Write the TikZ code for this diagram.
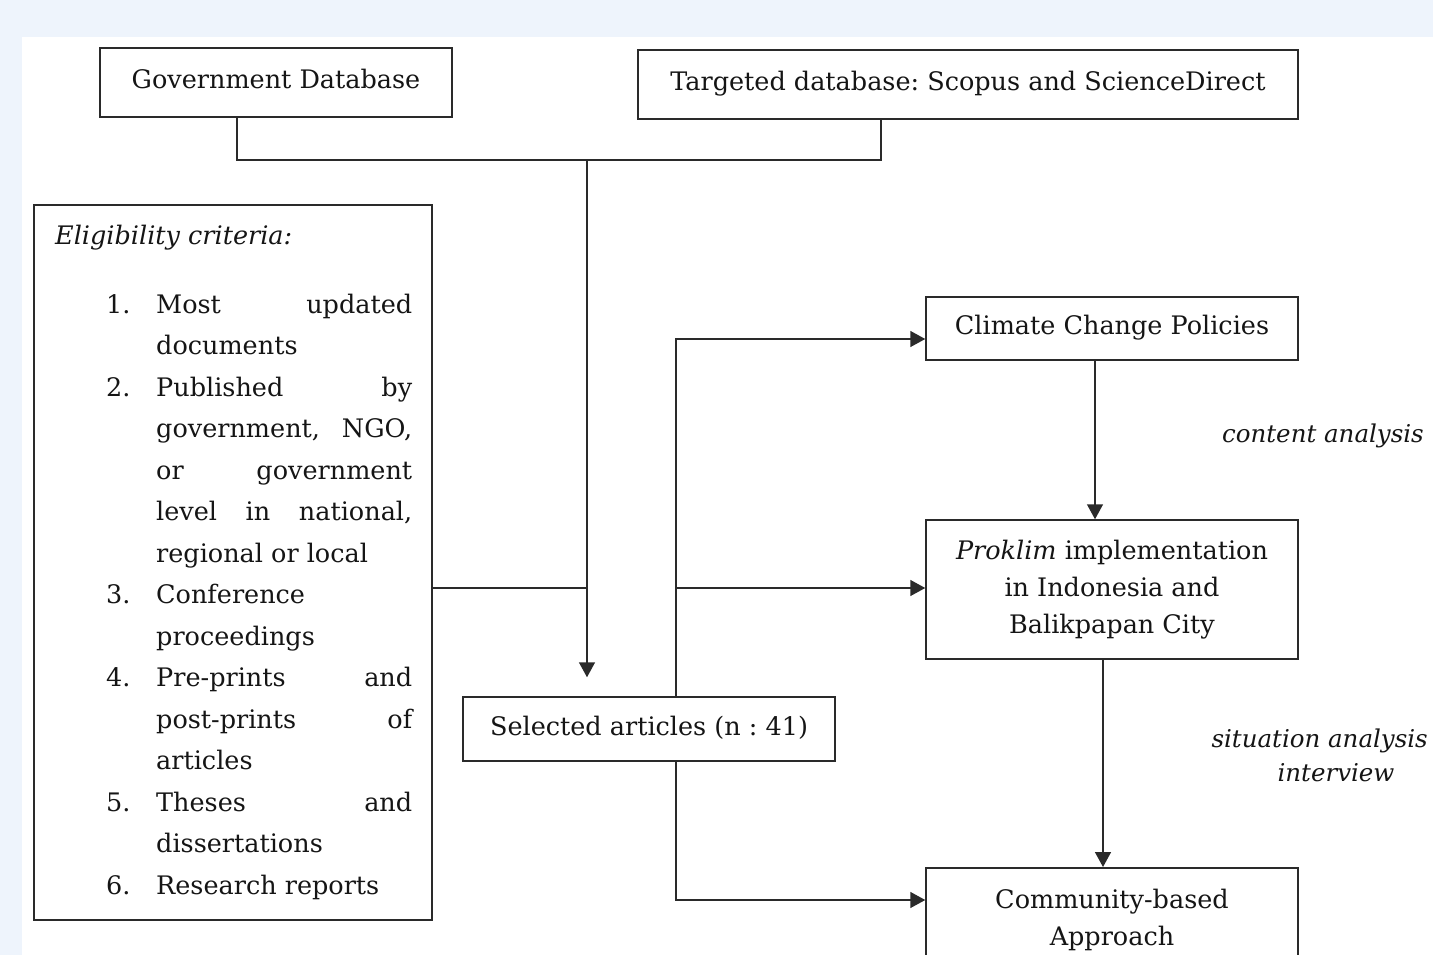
\documentclass[tikz,border=0pt]{standalone}
\usepackage{fontspec}
\setmainfont{DejaVu Serif}
\usetikzlibrary{arrows.meta}
\definecolor{bgblue}{HTML}{EEF4FC}
\definecolor{ink}{HTML}{151515}
\definecolor{edge}{HTML}{2A2A2A}
\newcommand\fs{\fontsize{25.5}{37}\selectfont\frenchspacing}
\newcommand\fl{\fontsize{24.5}{37}\selectfont\itshape}
\newcommand\jl[1]{\makebox[256pt][s]{#1}}
\begin{document}
\begin{tikzpicture}[x=1pt,y=-1pt,
  boxnode/.style={draw=edge, line width=1.5pt, inner sep=0pt, text=ink, font=\fs, align=center},
  onebox/.style={boxnode, text height=19pt, text depth=7pt},
  ln/.style={draw=edge, line width=1.5pt},
  arr/.style={ln, -{Triangle[length=15pt,width=16pt]}},
  itemtxt/.style={anchor=base west, inner sep=0pt, text=ink, font=\fs},
  lbl/.style={inner sep=0pt, text=ink, font=\fl}]
\useasboundingbox (0,0) rectangle (1433,955);
\fill[bgblue] (0,0) rectangle (1433,955);
\fill[white] (22,37) rectangle (1433,955);
\clip (0,0) rectangle (1433,955);

% boxes
\node[onebox, minimum width=352pt, minimum height=69pt] (gov) at (276,82.5) {Government Database};
\node[onebox, minimum width=660pt, minimum height=69pt] (tgt) at (968,84.5) {Targeted database: Scopus and ScienceDirect};
\node[draw=edge, line width=1.5pt, minimum width=398pt, minimum height=715pt, inner sep=0pt] (elig) at (233,562.5) {};
\node[onebox, minimum width=372pt, minimum height=64pt] (sel) at (649,729) {Selected articles (n : 41)};
\node[onebox, minimum width=372pt, minimum height=63pt] (clim) at (1112,328.5) {Climate Change Policies};
\node[boxnode, minimum width=372pt, minimum height=139pt] (prok) at (1112,589.5) {\textit{Proklim} implementation\\in Indonesia and\\Balikpapan City};
\node[boxnode, anchor=north, minimum width=372pt, minimum height=104pt] (comm) at (1112,867) {Community-based\\Approach};

% eligibility text
\node[anchor=base west, inner sep=0pt, text=ink, font=\fs\itshape] (etitle) at (55,244) {Eligibility criteria:};
\node[itemtxt] (n1) at (106,313) {1.};
\node[itemtxt] (l1) at (156,313) {\jl{Most updated}};
\node[itemtxt] (l2) at (156,354.5) {documents};
\node[itemtxt] (n2) at (106,396) {2.};
\node[itemtxt] (l3) at (156,396) {\jl{Published by}};
\node[itemtxt] (l4) at (156,437.5) {\jl{government, NGO,}};
\node[itemtxt] (l5) at (156,479) {\jl{or government}};
\node[itemtxt] (l6) at (156,520.5) {\jl{level in national,}};
\node[itemtxt] (l7) at (156,562) {regional or local};
\node[itemtxt] (n3) at (106,603.5) {3.};
\node[itemtxt] (l8) at (156,603.5) {Conference};
\node[itemtxt] (l9) at (156,645) {proceedings};
\node[itemtxt] (n4) at (106,686.5) {4.};
\node[itemtxt] (l10) at (156,686.5) {\jl{Pre-prints and}};
\node[itemtxt] (l11) at (156,728) {\jl{post-prints of}};
\node[itemtxt] (l12) at (156,769.5) {articles};
\node[itemtxt] (n5) at (106,811) {5.};
\node[itemtxt] (l13) at (156,811) {\jl{Theses and}};
\node[itemtxt] (l14) at (156,852.5) {dissertations};
\node[itemtxt] (n6) at (106,894) {6.};
\node[itemtxt] (l15) at (156,894) {Research reports};

% labels
\node[lbl, anchor=base east] (ca) at (1424,442) {content analysis};
\node[lbl, anchor=base east] (sa) at (1428,747) {situation analysis};
\node[lbl, anchor=base] (iv) at (1336,781) {interview};

% helper coordinates
\coordinate (gx) at (237,0);
\coordinate (tx) at (881,0);
\coordinate (mx) at (587,0);
\coordinate (top) at (587,160);
\coordinate (jy) at (0,588);
\coordinate (rx) at (676,0);
\coordinate (ay1) at (0,339);
\coordinate (ay2) at (0,588);
\coordinate (ay3) at (0,900);
\coordinate (cx1) at (1095,0);
\coordinate (cx2) at (1103,0);

% connectors
\draw[ln] (gov.south -| gx) |- (top) -| (tgt.south -| tx);
\draw[arr, shorten >=19pt] (top) -- (sel.north -| mx);
\draw[ln] (elig.east |- jy) -- (mx |- jy);
\draw[arr] (sel.north -| rx) |- (clim.west |- ay1);
\draw[arr] (rx |- ay2) -- (prok.west |- ay2);
\draw[arr] (sel.south -| rx) |- (comm.west |- ay3);
\draw[arr] (clim.south -| cx1) -- (prok.north -| cx1);
\draw[arr] (prok.south -| cx2) -- (comm.north -| cx2);
\end{tikzpicture}
\end{document}
